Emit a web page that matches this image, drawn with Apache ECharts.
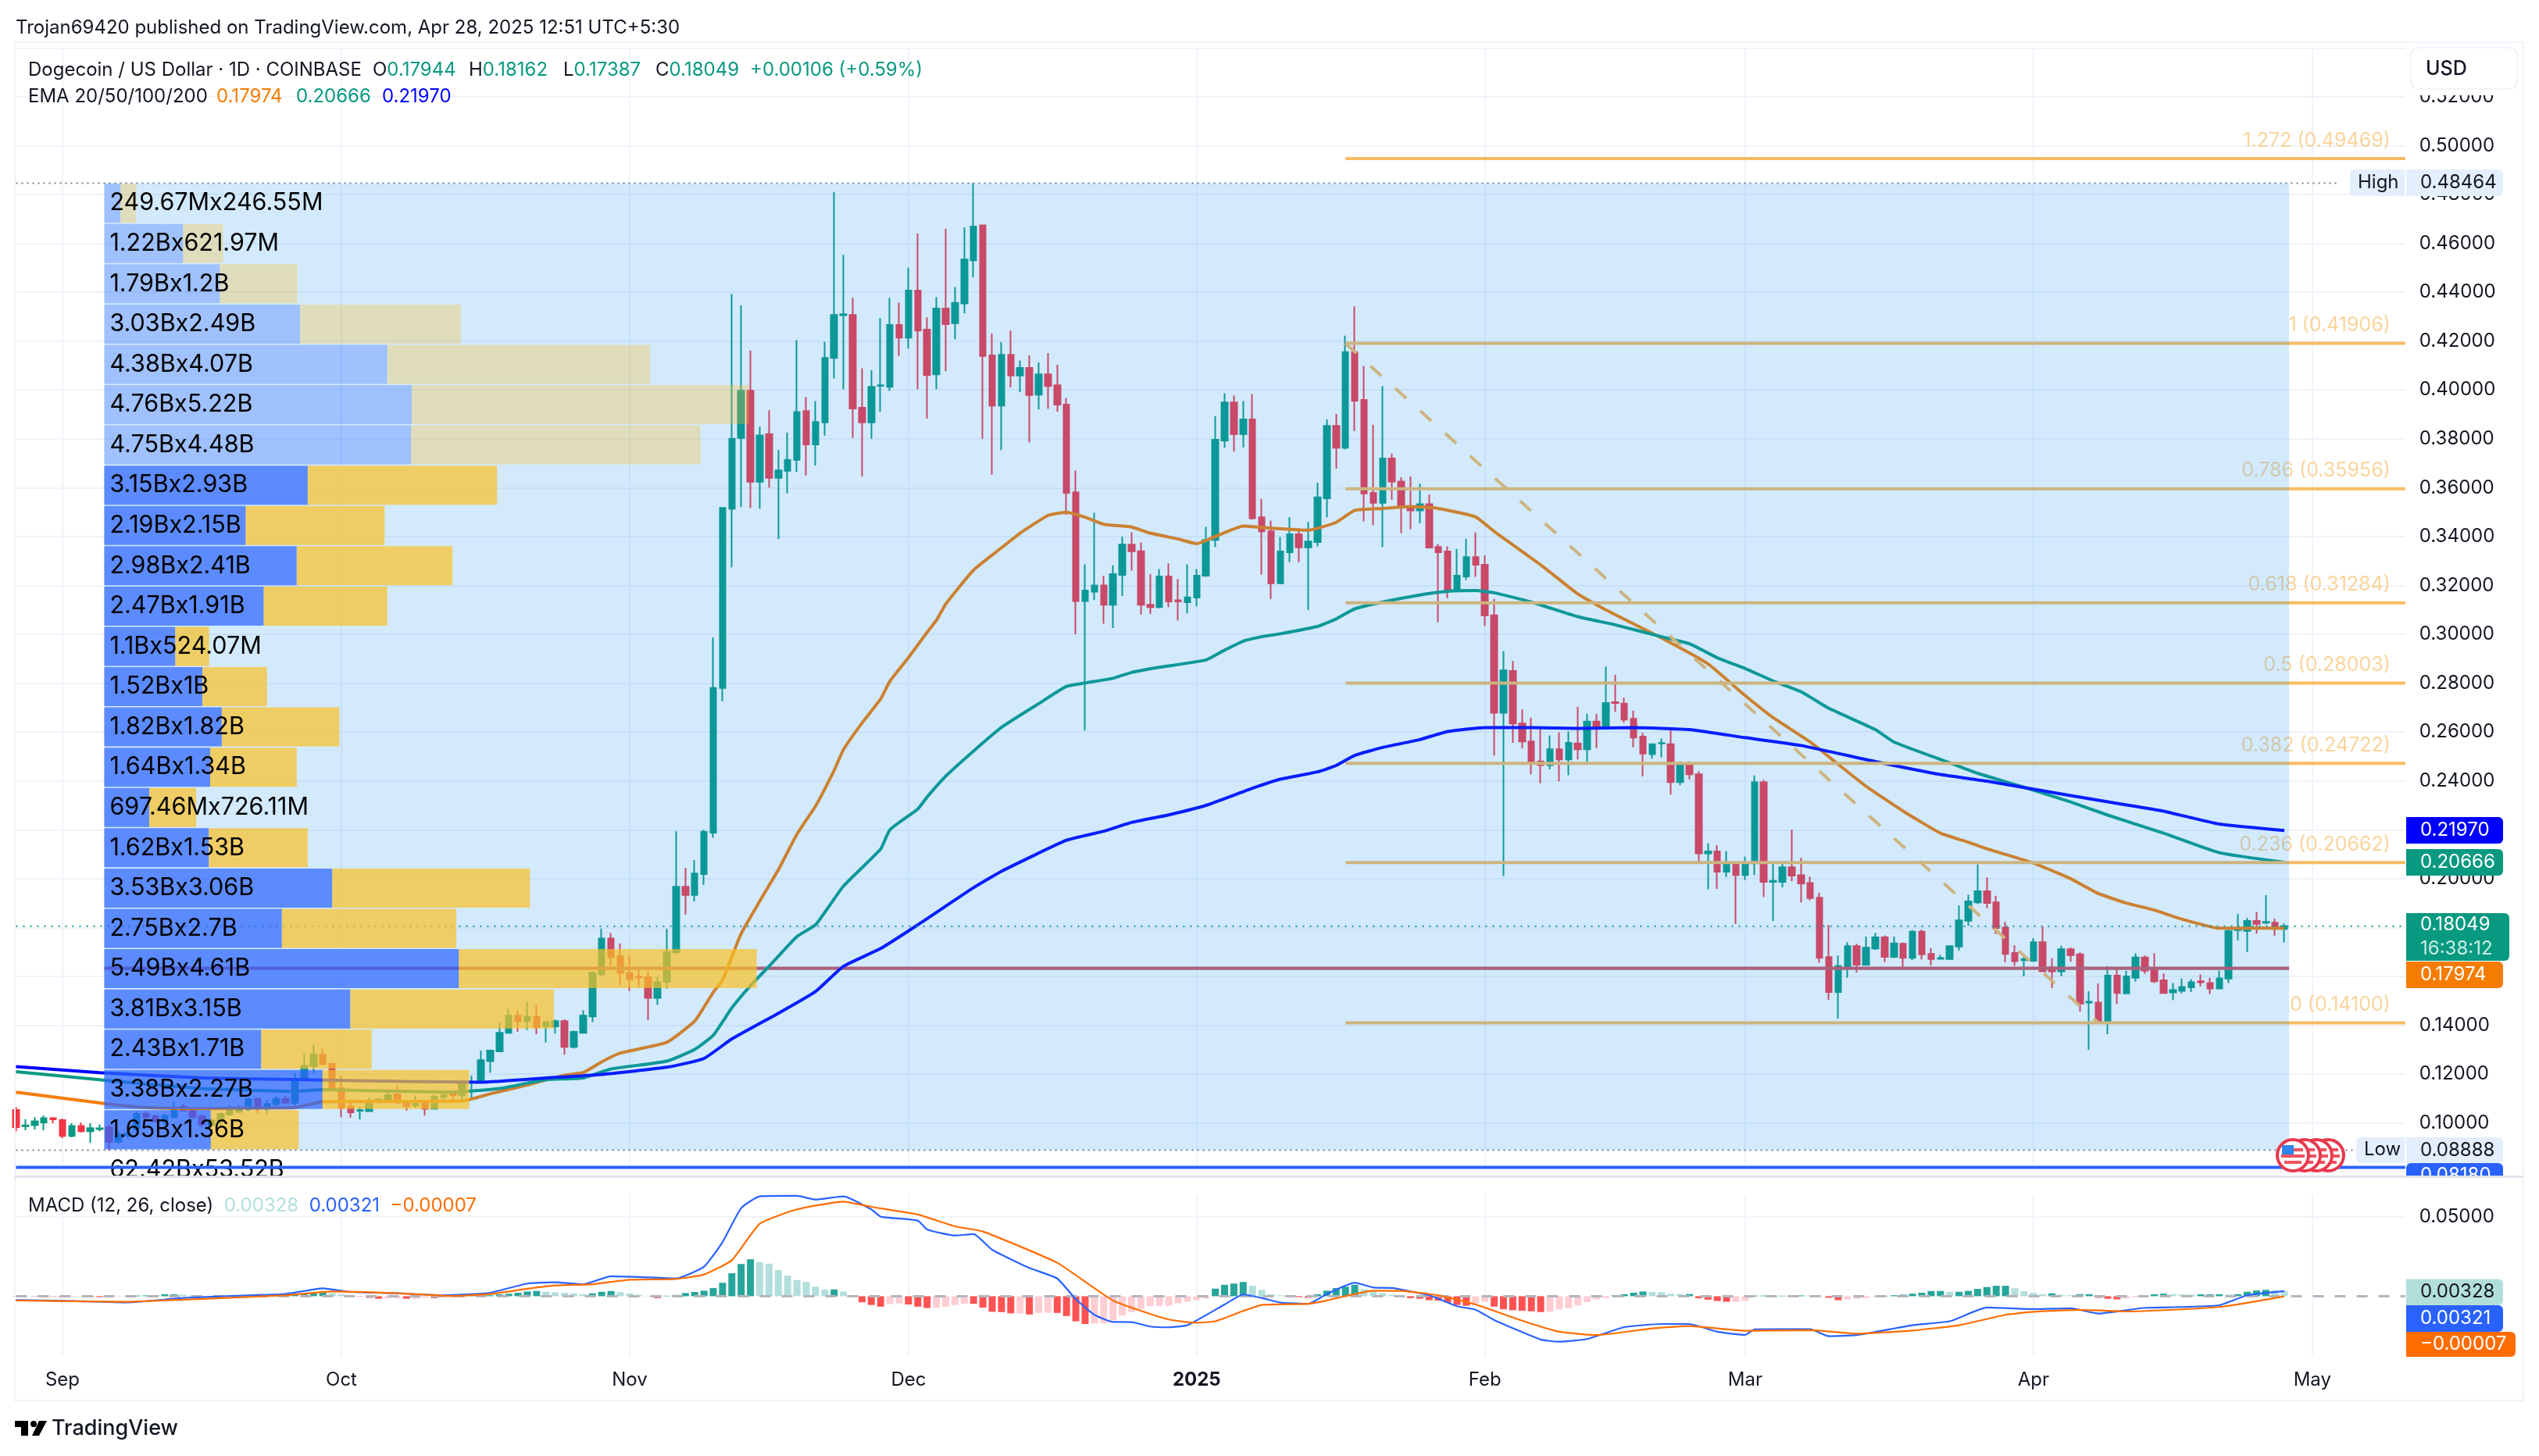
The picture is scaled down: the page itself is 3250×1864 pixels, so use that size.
<!DOCTYPE html>
<html>
<head>
<meta charset="utf-8">
<title>Dogecoin / US Dollar</title>
<script src="https://cdn.jsdelivr.net/npm/echarts@6/dist/echarts.min.js"></script>
<style>
  html, body { margin: 0; padding: 0; background: #fff; }
  #main-chart { width: 3250px; height: 1864px; }
</style>
</head>
<body>
<div id="main-chart"></div>
<script>
// daily bars Aug 27 2024 -> Apr 28 2025, rows are [open, close, low, high]
var candles = [
  [.1053,.0983,.0966,.1065],[.0987,.099,.097,.1016],[.0991,.1007,.0973,.1024],[.1002,.102,.097,.1031],[.102,.1015,.0999,.1024],
  // sep
  [.1012,.0947,.0937,.1017],[.0947,.0988,.0941,.0999],[.0988,.0966,.0961,.1002],[.0966,.0979,.0919,.0999],[.0975,.0978,.0966,.0994],
  [.0982,.0923,.08888,.0992],[.0923,.0953,.0916,.0966],[.095,.0957,.0939,.0966],[.0976,.1037,.0966,.1048],[.1037,.1024,.1014,.1048],
  [.1027,.1008,.1001,.1035],[.1008,.1029,.0994,.1037],[.1024,.1062,.1019,.1086],[.1067,.1051,.1046,.1078],[.1053,.1024,.1019,.1062],
  [.1027,.0994,.0982,.1035],[.0992,.101,.0982,.1019],[.1008,.1037,.0987,.1043],[.1035,.1051,.103,.1072],[.1046,.1056,.104,.1072],
  [.1056,.1097,.1046,.1104],[.1099,.1058,.104,.1104],[.1058,.1078,.1035,.1094],[.1078,.1099,.1067,.111],[.1099,.1083,.1078,.111],
  [.1083,.1176,.1072,.1205],[.1179,.1234,.1174,.1285],[.1232,.128,.12,.132],[.128,.124,.1238,.1305],[.1243,.114,.114,.1245],
  // oct
  [.1142,.1062,.1024,.1193],[.1067,.1044,.1022,.1094],[.105,.1052,.1014,.1067],[.1048,.109,.1046,.1104],[.109,.1096,.1078,.1101],
  [.1088,.1113,.1086,.1126],[.1117,.1083,.1083,.1154],[.1088,.1069,.1051,.1094],[.1072,.1078,.1062,.1113],[.1083,.1058,.103,.109],
  [.1058,.1107,.1056,.1115],[.1107,.1112,.1094,.1122],[.1117,.1113,.1083,.112],[.1113,.1166,.1097,.1179],[.1166,.1168,.1101,.1193],
  [.1174,.1257,.1162,.1296],[.1253,.1296,.1206,.13],[.1293,.1369,.129,.141],[.1369,.1439,.1369,.1468],[.1439,.1417,.1373,.1461],
  [.1417,.1435,.1381,.1497],[.1435,.1392,.1363,.1483],[.1395,.1413,.133,.1416],[.1395,.1417,.1366,.1423],[.1417,.1311,.1279,.1424],
  [.1311,.1373,.1305,.1378],[.1369,.1439,.1366,.1461],[.1436,.1614,.1413,.1621],[.1609,.1755,.1602,.1796],[.1755,.1679,.1643,.1778],
  [.1682,.1614,.1563,.1735],
  // nov
  [.1614,.1587,.154,.1687],[.1598,.1595,.1555,.1628],[.1596,.1512,.1421,.1621],[.1512,.1577,.1483,.1599],[.1578,.17,.155,.1794],
  [.1699,.1967,.169,.2194],[.1967,.1933,.1853,.2044],[.1933,.2021,.1907,.2076],[.2019,.2191,.1975,.22],[.2188,.278,.2167,.2987],
  [.278,.3517,.2726,.3517],[.3514,.38,.3274,.4393],[.3803,.3997,.3521,.4346],[.3997,.3624,.3517,.4161],[.3624,.3814,.3514,.385],
  [.3819,.364,.36,.3917],[.364,.3671,.339,.3754],[.3669,.3714,.3576,.3826],[.3714,.391,.3664,.4204],[.3914,.3777,.365,.3971],
  [.3777,.3869,.3691,.3954],[.3867,.4131,.3813,.4197],[.4131,.4307,.4047,.481],[.4306,.431,.4003,.4553],[.4307,.3924,.3803,.4377],
  [.3927,.3867,.3647,.4089],[.3867,.4013,.38,.4081],[.4017,.4019,.3911,.4294],[.4013,.4266,.3996,.4377],[.4266,.4214,.414,.4357],
  // dec
  [.4214,.4407,.4169,.45],[.4407,.4243,.4003,.464],[.4247,.4061,.3883,.4297],[.4064,.4333,.4003,.438],[.4333,.4269,.4077,.466],
  [.4273,.4356,.4207,.4421],[.4354,.4534,.4314,.4666],[.4531,.4669,.4461,.48464],[.4674,.4139,.38,.4677],[.4141,.3936,.3653,.4231],
  [.3936,.4144,.3754,.4196],[.4144,.4059,.401,.4243],[.4059,.409,.3991,.4121],[.409,.3979,.3786,.4141],[.3981,.4064,.392,.4113],
  [.4064,.4016,.3923,.4151],[.4019,.394,.3911,.4103],[.394,.3579,.3489,.3966],[.3581,.3136,.3,.3671],[.3136,.3179,.2607,.3286],
  [.3174,.32,.314,.3497],[.32,.3121,.3043,.324],[.3121,.3246,.3026,.3283],[.3243,.3367,.3157,.34],[.3367,.334,.3261,.3417],
  [.334,.3121,.3081,.3376],[.3121,.3111,.3083,.3246],[.3111,.3237,.3106,.3267],[.3237,.3134,.3111,.329],[.3139,.3134,.3057,.3226],
  [.3131,.3151,.3086,.3286],
  // jan
  [.315,.324,.3114,.3267],[.324,.3386,.3235,.344],[.3386,.3796,.3357,.3893],[.3793,.3949,.3763,.3986],[.3949,.3819,.3747,.3977],
  [.3819,.3879,.3765,.3954],[.3879,.3475,.347,.3983],[.3479,.3421,.3245,.3554],[.3421,.3209,.3145,.3465],[.3209,.3339,.3209,.3398],
  [.3336,.3409,.3295,.348],[.3409,.3356,.3295,.3434],[.3356,.338,.3099,.346],[.3377,.356,.336,.362],[.3556,.3853,.3479,.3879],
  [.3853,.3763,.3678,.3902],[.3763,.4155,.3757,.4222],[.4155,.3956,.3832,.4342],[.3959,.3576,.3463,.4098],[.3579,.3538,.3447,.3858],
  [.3538,.3719,.3357,.4016],[.3719,.3625,.3551,.3739],[.3625,.352,.3414,.3643],[.3523,.3507,.343,.3646],[.3507,.3532,.3455,.3616],
  [.3532,.3355,.3352,.3572],[.3357,.3336,.305,.3369],[.3339,.3181,.3148,.336],[.3181,.324,.3173,.3349],[.3237,.3316,.3222,.339],
  [.3316,.3285,.3235,.3417],
  // feb
  [.3285,.3078,.3034,.3323],[.3078,.2679,.2504,.3145],[.2679,.2852,.2011,.2931],[.285,.2635,.2556,.2891],[.2635,.2561,.2533,.2692],
  [.2561,.2476,.2427,.2659],[.248,.2465,.239,.2618],[.2465,.2529,.2447,.2586],[.2529,.2488,.2398,.2599],[.2488,.2556,.2423,.2602],
  [.2553,.2529,.2488,.2703],[.2529,.2643,.2468,.2675],[.2643,.2623,.2534,.2675],[.2621,.2719,.261,.2868],[.2722,.2719,.2683,.2834],
  [.2716,.2651,.2638,.274],[.2654,.2577,.2537,.2688],[.2581,.2512,.2418,.2597],[.2509,.255,.2491,.2553],[.2553,.2555,.2496,.2573],
  [.255,.2395,.2344,.2613],[.2395,.2467,.2382,.248],[.2467,.2427,.2406,.248],[.2427,.2103,.206,.2439],[.2103,.2111,.1956,.2145],
  [.2111,.2028,.1958,.2137],[.2028,.2067,.2007,.2113],[.2067,.2015,.1815,.2067],
  // mar
  [.2015,.2067,.1994,.209],[.2063,.2394,.2015,.2422],[.2394,.1987,.1925,.2404],[.1987,.1991,.1827,.2069],[.1987,.2047,.1964,.2066],
  [.2047,.2012,.1989,.22],[.2014,.198,.1903,.2085],[.1982,.192,.1911,.2008],[.1922,.1676,.1655,.1943],[.1679,.1536,.1504,.181],
  [.1536,.1642,.1427,.1685],[.164,.1724,.1594,.174],[.1724,.1648,.1616,.1733],[.1647,.1717,.1644,.1763],[.1714,.176,.1708,.1778],
  [.176,.168,.1658,.1768],[.168,.1735,.1674,.1763],[.1733,.1676,.1637,.1738],[.1676,.1783,.1666,.1789],[.1783,.169,.1669,.1791],
  [.1692,.1671,.1645,.1715],[.1672,.1675,.1669,.1688],[.1671,.1724,.1671,.1724],[.1722,.1829,.1706,.189],[.1828,.1907,.1807,.1935],
  [.1903,.1948,.1896,.2058],[.1948,.19,.1879,.2005],[.1903,.1797,.1773,.193],[.18,.1692,.1658,.1823],[.1696,.1662,.1644,.1728],
  [.1666,.167,.16,.1685],
  // apr
  [.1664,.174,.1659,.1756],[.174,.1621,.1621,.1804],[.1637,.1621,.1552,.1674],[.1621,.1711,.16,.1725],[.1711,.1687,.166,.1717],
  [.169,.1488,.1456,.1698],[.1493,.1496,.1299,.1539],[.1493,.1417,.1413,.1571],[.1417,.1603,.1363,.1642],[.1603,.1532,.1488,.1631],
  [.153,.16,.153,.1623],[.1594,.1677,.1578,.1695],[.1677,.1623,.161,.1685],[.1626,.158,.1573,.1695],[.1584,.1532,.153,.1612],
  [.1534,.1544,.1502,.1573],[.1541,.1557,.153,.1592],[.1555,.1576,.1536,.1589],[.158,.1576,.1559,.1608],[.1573,.155,.1527,.1594],
  [.155,.1592,.155,.1624],[.1591,.1786,.1573,.1802],[.1789,.1792,.1747,.1855],[.1786,.1827,.1699,.184],[.1827,.1815,.1775,.1864],
  [.182,.1823,.1813,.1932],[.182,.1794,.1765,.1836],[.17944,.18049,.17387,.18162]
];

// EMAs and MACD lines as [days after Sep 1 2024, value]
var ema20 = [[-5,.1126],[4,.1082],[9,.1063],[15,.1058],[20,.1061],[25,.1063],[28,.1087],[43,.109],[46,.1119],[50,.1155],[54,.1196],[56,.1206],[58,.125],[60,.1286],[65,.133],[68,.1417],[70,.1535],[71,.1585],[73,.1775],[75,.1908],[77,.2036],[79,.2182],[81,.2297],[83,.2443],[84,.2528],[86,.2637],[88,.2735],[89,.2808],[91,.2905],[93,.3008],[94,.3057],[95,.3123],[98,.3263],[101,.3354],[103,.3414],[106,.3486],[108,.35],[110,.3479],[112,.345],[115,.3439],[117,.3414],[120,.339],[122,.3371],[124,.34],[127,.3443],[130,.3434],[134,.3426],[137,.3458],[139,.3507],[142,.3515],[145,.3523],[148,.3515],[152,.348],[154,.3421],[159,.3284],[163,.3165],[166,.31],[172,.2985],[177,.2879],[181,.2749],[184,.2659],[188,.2559],[191,.2468],[194,.2378],[198,.2276],[202,.2186],[205,.2149],[207,.2122],[212,.2064],[216,.2],[219,.1939],[222,.19],[225,.1871],[228,.1834],[232,.1797],[235,.1797],[239,.17974]];
var ema50 = [[-5,.121],[4,.1177],[15,.1141],[25,.113],[28,.1136],[42,.1126],[47,.1141],[52,.1177],[56,.1184],[59,.1221],[65,.1253],[68,.1301],[70,.1359],[72,.1471],[74,.1562],[76,.1641],[79,.1763],[81,.1811],[84,.1969],[88,.2121],[89,.22],[92,.2285],[93,.2334],[95,.2419],[98,.2522],[101,.2619],[105,.2716],[108,.2787],[110,.2801],[113,.282],[115,.2844],[118,.2865],[123,.2895],[125,.2935],[127,.2972],[129,.299],[131,.3002],[135,.3032],[137,.3063],[139,.3104],[142,.3132],[146,.3161],[149,.3176],[152,.3179],[154,.317],[158,.3132],[163,.3072],[167,.3039],[172,.299],[175,.2961],[178,.2904],[181,.286],[184,.2809],[187,.2765],[190,.2697],[195,.261],[197,.2559],[203,.2474],[206,.2431],[212,.2362],[216,.2314],[220,.226],[226,.2186],[232,.2106],[239,.20666]];
var ema200 = [[-5,.1231],[4,.1206],[15,.1184],[26,.1177],[37,.117],[45,.1167],[52,.1184],[58,.1199],[65,.1228],[69,.1264],[72,.1344],[77,.1449],[81,.1538],[84,.1641],[88,.1714],[92,.1811],[98,.1963],[101,.203],[108,.2157],[112,.2194],[115,.223],[119,.2261],[123,.23],[128,.237],[131,.2407],[135,.2437],[137,.2463],[139,.2504],[142,.2537],[146,.2569],[149,.2602],[153,.2618],[158,.2618],[163,.2615],[169,.2618],[175,.261],[181,.2577],[187,.2545],[195,.2479],[202,.2426],[207,.2399],[216,.234],[221,.2308],[226,.2276],[232,.2223],[239,.2197]];
var macdLine = [[-5,-.0024],[1,-.003],[7,-.0039],[13,-.0011],[20,.0006],[24,.0014],[28,.005],[31,.0027],[36,.0019],[41,.0006],[46,.0022],[50,.008],[53,.0088],[56,.0075],[59,.0126],[62,.0121],[66,.0112],[69,.0186],[71,.0342],[73,.0556],[75,.063],[79,.0633],[81,.061],[84,.063],[87,.0548],[88,.0502],[92,.0477],[93,.0421],[96,.0383],[98,.0392],[100,.0293],[104,.0178],[107,.0112],[109,-.0019],[111,-.0117],[113,-.0162],[115,-.0163],[117,-.0191],[119,-.0196],[121,-.0183],[125,-.0052],[127,.0011],[129,-.0011],[131,-.004],[134,-.0048],[136,.0014],[139,.0085],[141,.0055],[143,.0052],[147,.0006],[150,-.0063],[152,-.0085],[154,-.015],[159,-.0273],[161,-.0287],[164,-.027],[168,-.0195],[172,-.0175],[175,-.0175],[178,-.0224],[181,-.0244],[182,-.0209],[188,-.0208],[190,-.0252],[193,-.0245],[199,-.0183],[203,-.0158],[207,-.0071],[212,-.0081],[216,-.0076],[219,-.0109],[224,-.0073],[228,-.0068],[232,-.0057],[235,.0006],[239,.00321]];
var macdSignal = [[-5,-.0027],[7,-.0035],[13,-.0022],[24,.0006],[29,.003],[36,.0019],[42,.0002],[46,.0014],[50,.0047],[53,.0068],[57,.0076],[61,.0104],[66,.0109],[69,.0137],[72,.0227],[75,.0457],[79,.0548],[84,.0597],[87,.0564],[92,.0515],[96,.0441],[99,.0408],[107,.0211],[113,-.0027],[119,-.0147],[122,-.0167],[124,-.0158],[127,-.0093],[129,-.0055],[134,-.0048],[136,-.0027],[139,.0014],[141,.0035],[144,.0034],[148,.0006],[152,-.0052],[157,-.0154],[161,-.0224],[165,-.0245],[171,-.0203],[175,-.0188],[181,-.0218],[188,-.0214],[193,-.0236],[199,-.0216],[204,-.0183],[209,-.0117],[212,-.0098],[217,-.0086],[222,-.0096],[232,-.0068],[239,-.00007]];
// one histogram bar per day, same range as candles
var macdHist = [
  .0002,.0001,-.0002,.0001,-.0002,
  -.0006,-.0005,-.0004,-.0005,-.0006,-.0004,-.0003,.0002,.0004,.0005,
  .0007,.0012,.0012,.001,.0006,.0003,.0002,.0002,.0002,.0003,
  .0004,.0005,.0005,.0006,.001,.0012,.0015,.0018,.0024,.002,
  .0012,.0006,-.0002,-.001,-.0016,-.0014,-.0012,-.0016,-.0016,-.001,
  -.0012,-.0008,-.0006,-.0003,.0002,.0004,.0006,.0012,.0016,.0022,
  .003,.0033,.0028,.0025,.0022,.0018,.0013,.0018,.0028,.0033,
  .0025,.0018,.0008,.0003,-.0012,.0003,.0008,.002,.0027,.0035,
  .0052,.0085,.0145,.0203,.0233,.0215,.0205,.0165,.013,.0102,
  .009,.006,.0042,.0043,.003,-.0005,-.0038,-.0055,-.0066,-.005,
  -.0046,-.0052,-.0066,-.0074,-.0072,-.0066,-.0055,-.0047,-.0048,-.0072,
  -.0098,-.01,-.0108,-.0108,-.0115,-.0105,-.0104,-.0105,-.0125,-.0158,
  -.0175,-.0172,-.017,-.0152,-.0122,-.01,-.008,-.0062,-.006,-.006,
  -.0045,-.0035,-.0025,-.0015,.0048,.0072,.008,.009,.0066,.004,
  .0012,.0006,.0003,-.0006,-.001,.0012,.0035,.0052,.006,.0072,
  .0045,.0034,.002,.001,-.0006,-.0012,-.0016,-.0025,-.0028,-.004,
  -.0055,-.006,-.0045,-.0035,-.0065,-.0082,-.0088,-.0092,-.0095,-.01,
  -.0098,-.0083,-.0075,-.0058,-.0037,-.002,-.0012,.0006,.0013,.0022,
  .003,.0027,.0026,.0016,.0014,.0014,-.0013,-.0022,-.003,-.0035,
  -.0035,-.003,.0004,.0004,-.0004,.0003,.0005,.0005,.0004,.0002,
  -.001,-.0025,-.002,-.0016,-.0012,-.0005,.0002,.0006,.001,.0016,
  .0022,.0033,.0033,.0028,.0028,.0034,.0046,.0058,.0066,.0066,
  .005,.0032,.0022,.0012,.0018,.001,.0006,.0013,.0013,-.001,
  -.0016,-.002,-.0014,-.0007,.0006,.0012,.0016,.0013,.0011,.001,
  .0012,.0012,.0012,.001,.0013,.0028,.0036,.004,.0038,.00328
];

// volume profile rows, top to bottom, in billions (last row is the total label)
var vpUp = [.24967,1.22,1.79,3.03,4.38,4.76,4.75,3.15,2.19,2.98,2.47,1.1,1.52,1.82,1.64,.69746,1.62,3.53,2.75,5.49,3.81,2.43,3.38,1.65,0];
var vpDown = [.24655,.62197,1.2,2.49,4.07,5.22,4.48,2.93,2.15,2.41,1.91,.52407,1,1.82,1.34,.72611,1.53,3.06,2.7,4.61,3.15,1.71,2.27,1.36,0];
var vpLabels = ['249.67Mx246.55M','1.22Bx621.97M','1.79Bx1.2B','3.03Bx2.49B','4.38Bx4.07B','4.76Bx5.22B','4.75Bx4.48B','3.15Bx2.93B','2.19Bx2.15B','2.98Bx2.41B','2.47Bx1.91B','1.1Bx524.07M','1.52Bx1B','1.82Bx1.82B','1.64Bx1.34B','697.46Mx726.11M','1.62Bx1.53B','3.53Bx3.06B','2.75Bx2.7B','5.49Bx4.61B','3.81Bx3.15B','2.43Bx1.71B','3.38Bx2.27B','1.65Bx1.36B','62.42Bx53.52B'];

var fibLevels = [.49469,.41906,.35956,.31284,.28003,.24722,.20662,.141];
var fibNames = ['1.272 (0.49469)','1 (0.41906)','0.786 (0.35956)','0.618 (0.31284)','0.5 (0.28003)','0.382 (0.24722)','0.236 (0.20662)','0 (0.14100)'];

var rangeHigh = .48464, rangeLow = .08888, pocPrice = .1633, lastClose = .18049, blueLevel = .0818;

// category per day, runs past the last bar up to the right edge of the pane
var categories = [];
(function(){
    var start = Date.UTC(2024, 7, 27);
    for (var i = 0; i < 258; i++) {
        categories.push(new Date(start + i * 864e5).toISOString().slice(0, 10));
    }
})();
var sep1 = categories.indexOf('2024-09-01');
var lastBar = categories.indexOf('2025-04-28');
var lastCat = categories.length - 1;
var monthNames = ['Jan','Feb','Mar','Apr','May','Jun','Jul','Aug','Sep','Oct','Nov','Dec'];

function isMonthStart(i){ return categories[i] && categories[i].slice(8) === '01'; }
function pairs(list){ return list.map(function(p){ return [p[0] + sep1, p[1]]; }); }

var FONT = 'Inter';
var DARK = '#131722';
var GRID_LINE = '#F0F3FA';
var gridLeft = 20.5, gridWidth = 3058.3;

function hLine(name, y, color, width, from, to, dash, z){
    return {
        name: name, type: 'line', xAxisIndex: 0, yAxisIndex: 0, z: z || 3, silent: true,
        symbol: 'none', data: [[from, y], [to, y]],
        lineStyle: {color: color, width: width, type: dash || 'solid'}
    };
}
function emaLine(list, color){
    return {
        type: 'line', xAxisIndex: 0, yAxisIndex: 0, z: 3, symbol: 'none', smooth: 0.15,
        data: pairs(list), lineStyle: {color: color, width: 4}
    };
}
// a box from the left edge of one bar to the right edge of another
function barRange(item, color, z){
    return {
        type: 'custom', xAxisIndex: 0, yAxisIndex: 0, z: z, silent: true,
        encode: {x: [0, 1], y: [2, 3]}, data: [item],
        renderItem: function(params, api){
            var half = api.size([1, 0])[0] / 2;
            var a = api.coord([api.value(0), api.value(2)]);
            var b = api.coord([api.value(1), api.value(3)]);
            return {type: 'rect', shape: {x: a[0] - half, y: a[1], width: b[0] - a[0] + 2 * half, height: b[1] - a[1]},
                style: {fill: color}};
        }
    };
}

var histData = macdHist.map(function(v, i){
    var prev = i ? macdHist[i - 1] : 0;
    var color = v >= 0 ? (v >= prev ? '#26A69A' : '#B2DFDB') : (v < prev ? '#FF5252' : '#FFCDD2');
    return {value: v, itemStyle: {color: color}};
});

var series = [
    {
        type: 'candlestick', xAxisIndex: 0, yAxisIndex: 0, z: 2, barWidth: 8,
        data: candles,
        itemStyle: {color: '#089981', color0: '#F23645', borderColor: '#089981', borderColor0: '#F23645', borderWidth: 2}
    },
    emaLine(ema20, '#F57C00'),
    emaLine(ema50, '#089981'),
    emaLine(ema200, '#0000FF'),
    hLine('high', rangeHigh, '#787B86', 2, 0, sep1 + 245, [2, 5]),
    hLine('low', rangeLow, '#787B86', 2, 0, sep1 + 247, [2, 5]),
    hLine('close', lastClose, '#089981', 2, 0, lastCat, [2, 7]),
    barRange([sep1 + 5, lastBar, rangeHigh, rangeLow], 'rgba(33,150,243,0.2)', 4),
    barRange([sep1 + 5, lastBar, pocPrice + .0007, pocPrice - .0007], '#CB5460', 3),
    hLine('blue', blueLevel, '#2962FF', 4, 0, lastCat, 'solid', 6),
    {
        type: 'line', xAxisIndex: 0, yAxisIndex: 0, z: 3, symbol: 'none',
        data: [[categories.indexOf('2025-01-17'), fibLevels[1]], [categories.indexOf('2025-04-08'), fibLevels[7]]],
        lineStyle: {color: '#F7BC62', width: 4, type: [19, 24]}
    },
    {
        type: 'scatter', xAxisIndex: 0, yAxisIndex: 0, z: 3, symbolSize: 0, silent: true,
        data: fibLevels.map(function(v){ return [lastCat, v]; }),
        label: {
            show: true, position: 'left', distance: 19, offset: [0, -23],
            color: 'rgba(247,188,98,0.8)', fontFamily: FONT, fontSize: 25,
            formatter: function(p){ return fibNames[p.dataIndex]; }
        }
    },
    // MACD pane
    {type: 'bar', xAxisIndex: 1, yAxisIndex: 1, barWidth: 9, data: histData, z: 2},
    {type: 'line', xAxisIndex: 1, yAxisIndex: 1, z: 3, symbol: 'none', data: [[0, 0], [lastCat, 0]],
        lineStyle: {color: '#B2B5BE', width: 3, type: [14, 14]}},
    {type: 'line', xAxisIndex: 1, yAxisIndex: 1, z: 4, symbol: 'none', smooth: 0.15, data: pairs(macdLine), lineStyle: {color: '#2962FF', width: 2.2}},
    {type: 'line', xAxisIndex: 1, yAxisIndex: 1, z: 4, symbol: 'none', smooth: 0.15, data: pairs(macdSignal), lineStyle: {color: '#FF6D00', width: 2.2}},
    // volume profile, has its own scale of billions
    {
        type: 'bar', xAxisIndex: 2, yAxisIndex: 2, stack: 'vp', barWidth: 50, z: 5,
        data: vpUp.map(function(v, i){ return {value: v, itemStyle: {color: i < 7 ? 'rgba(41,98,255,0.3)' : 'rgba(41,98,255,0.7)'}}; }),
        label: {
            show: true, position: 'insideLeft', distance: 7, color: '#000', fontFamily: FONT, fontSize: 30.5,
            formatter: function(p){ return vpLabels[p.dataIndex]; }
        }
    },
    {
        type: 'bar', xAxisIndex: 2, yAxisIndex: 2, stack: 'vp', barWidth: 50, z: 5,
        data: vpDown.map(function(v, i){ return {value: v, itemStyle: {color: i < 7 ? 'rgba(251,193,35,0.3)' : 'rgba(251,193,35,0.7)'}}; })
    }
];
fibLevels.forEach(function(v){
    series.push(hLine('fib', v, '#F7BC62', 4, categories.indexOf('2025-01-17'), lastCat));
});

// overlay pieces in page pixels
var elements = [];
function rect(x, y, w, h, fill, z, r, stroke){
    elements.push({type: 'rect', silent: true, z: z, shape: {x: x, y: y, width: w, height: h, r: r || 0},
        style: {fill: fill, stroke: stroke || null, lineWidth: stroke ? 2 : 0}});
}
function text(str, x, y, size, color, z, extra){
    var style = {text: str, x: x, y: y, fontSize: size, fontFamily: FONT, fill: color, verticalAlign: 'middle', align: 'left'};
    for (var k in (extra || {})) style[k] = extra[k];
    elements.push({type: 'text', silent: true, z: z || 80, style: style});
}
function tag(y0, y1, x1, fill, color, lines, z){
    rect(3080, y0, x1 - 3080, y1 - y0, fill, z || 65, [0, 6, 6, 0]);
    var step = (y1 - y0) / lines.length;
    lines.forEach(function(s, i){
        text(s.t || s, 3098, y0 + step * (i + 0.5), 24, s.c || color, (z || 65) + 1);
    });
}

// labels cover the axis numbers under them
tag(217, 251, 3204, '#E3EFFD', DARK, ['0.48464']);
rect(3008, 217, 70, 34, '#E3EFFD', 65, [6, 0, 0, 6]);
text('High', 3018, 234, 24, DARK, 66);
tag(1046, 1080, 3204, '#0000FF', '#fff', ['0.21970']);
tag(1087, 1121, 3204, '#089981', '#fff', ['0.20666']);
tag(1169, 1230, 3212, '#089981', '#fff', ['0.18049', {t: '16:38:12', c: '#C8EDE3'}]);
tag(1231, 1265, 3204, '#F57C00', '#fff', ['0.17974']);
rect(3016, 1456, 62, 33, '#E3EFFD', 65, [6, 0, 0, 6]);
text('Low', 3026, 1472, 24, DARK, 66);
tag(1456, 1489, 3204, '#E3EFFD', DARK, ['0.08888']);
rect(3080, 1489, 124, 30, '#2962FF', 55, [6, 6, 0, 0]);
text('0.08180', 3098, 1505, 24, '#fff', 56);
tag(1637.5, 1671, 3204, '#B2DFDB', DARK, ['0.00328']);
tag(1671, 1705, 3204, '#2962FF', '#fff', ['0.00321']);
tag(1705, 1737, 3220, '#FF6D00', '#fff', ['\u22120.00007']);

// news flags at the right end of the low line, left one sits on top
[2980, 2965, 2950, 2935].forEach(function(cx, n){
    var cy = 1479, z = 30 + n * 3;
    elements.push({type: 'circle', silent: true, z: z, shape: {cx: cx, cy: cy, r: 20}, style: {fill: '#fff', stroke: '#E8394C', lineWidth: 4}});
    rect(cx - 13, cy - 9, 26, 4, '#F0535F', z + 1);
    rect(cx - 15, cy - 1, 30, 4, '#F0535F', z + 1);
    rect(cx - 11, cy + 7, 22, 4, '#F0535F', z + 1);
    rect(cx - 14, cy - 13, 15, 12, '#2F86EB', z + 2);
});

// pane edges, the price pane clips what runs under it
rect(19, 1507, 3210, 22, '#fff', 60);
rect(3082, 56, 146, 66, '#fff', 60);
rect(3086, 61, 136, 53, '#fff', 61, 10, GRID_LINE);
text('USD', 3105, 88, 25, DARK, 62, {fontWeight: 500});
rect(19, 54, 3211, 1739, 'transparent', 70, 0, GRID_LINE);
rect(19, 1505, 3211, 3, '#E0E3EB', 70);

var green = {fill: '#089981'};
text('Trojan69420 published on TradingView.com, Apr 28, 2025 12:51 UTC+5:30', 20, 36, 24, DARK);
text('Dogecoin / US Dollar \u00B7 1D \u00B7 COINBASE', 36, 90, 24, DARK);
text('O{g|0.17944}', 477, 90, 24, DARK, 80, {rich: {g: green}});
text('H{g|0.18162}', 600, 90, 24, DARK, 80, {rich: {g: green}});
text('L{g|0.17387}', 721, 90, 24, DARK, 80, {rich: {g: green}});
text('C{g|0.18049}', 839, 90, 24, DARK, 80, {rich: {g: green}});
text('+0.00106 (+0.59%)', 960, 90, 24, '#089981');
text('EMA 20/50/100/200', 36, 124, 24, DARK);
text('0.17974', 277, 124, 24, '#F57C00');
text('0.20666', 379, 124, 24, '#089981');
text('0.21970', 489, 124, 24, '#0000FF');
text('MACD (12, 26, close)  {h|0.00328}  {m|0.00321}  {s|\u22120.00007}', 36, 1544, 24, DARK, 80,
    {rich: {h: {fill: '#B2DFDB'}, m: {fill: '#2962FF'}, s: {fill: '#FF6D00'}}});

// TradingView mark and name
function logoShape(points){
    elements.push({type: 'polygon', silent: true, z: 80, shape: {points: points}, style: {fill: '#000'}});
}
logoShape([[19,1819],[36,1819],[36,1838],[27,1838],[27,1827],[19,1827]]);
elements.push({type: 'circle', silent: true, z: 80, shape: {cx: 43, cy: 1823, r: 4}, style: {fill: '#000'}});
logoShape([[50,1819],[60,1819],[50,1838],[41,1838]]);
text('TradingView', 66, 1829, 27, '#131722', 80, {fontWeight: 500});

var option = {
    animation: false,
    backgroundColor: '#fff',
    textStyle: {fontFamily: FONT},
    grid: [
        {left: gridLeft, width: gridWidth, top: 61.3, height: 1438.9},
        {left: gridLeft, width: gridWidth, top: 1506, height: 231},
        {left: 133.4, width: 2796.6, top: 234.4, height: 1289.3}
    ],
    xAxis: [
        {
            type: 'category', gridIndex: 0, data: categories, boundaryGap: false,
            axisLine: {show: false}, axisTick: {show: false}, axisLabel: {show: false},
            splitLine: {show: true, interval: function(i){ return isMonthStart(i); }, lineStyle: {color: GRID_LINE, width: 2}}
        },
        {
            type: 'category', gridIndex: 1, data: categories, boundaryGap: false,
            axisLine: {show: false}, axisTick: {show: false},
            axisLabel: {
                show: true, margin: 18, color: DARK, fontFamily: FONT, fontSize: 24,
                interval: function(i){ return isMonthStart(i); },
                formatter: function(v){
                    var m = +v.slice(5, 7) - 1;
                    return m === 0 ? '{y|' + v.slice(0, 4) + '}' : monthNames[m];
                },
                rich: {y: {fontWeight: 700, fontSize: 24, color: DARK, fontFamily: FONT}}
            },
            splitLine: {show: true, interval: function(i){ return isMonthStart(i); }, lineStyle: {color: GRID_LINE, width: 2}}
        },
        {type: 'value', gridIndex: 2, min: 0, max: 33.82, show: false}
    ],
    yAxis: [
        {
            type: 'value', gridIndex: 0, position: 'right', min: .08, max: .54, interval: .02,
            axisLine: {show: false}, axisTick: {show: false},
            axisLabel: {
                margin: 18, color: DARK, fontFamily: FONT, fontSize: 24,
                formatter: function(v){ return (v < .09 || v > .53) ? '' : v.toFixed(5); }
            },
            splitLine: {lineStyle: {color: GRID_LINE, width: 2}}
        },
        {
            type: 'value', gridIndex: 1, position: 'right', min: -.0382, max: .0756,
            axisLine: {show: false},
            axisTick: {show: false, customValues: [.05]},
            axisLabel: {margin: 18, color: DARK, fontFamily: FONT, fontSize: 24, customValues: [.05],
                formatter: function(v){ return v.toFixed(5); }},
            splitLine: {lineStyle: {color: GRID_LINE, width: 2}}
        },
        {type: 'category', gridIndex: 2, inverse: true, show: false, data: vpLabels}
    ],
    series: series,
    graphic: {elements: elements}
};

var dom = document.getElementById('main-chart');
var myChart = echarts.init(dom);
myChart.setOption(option, true);
</script>
</body>
</html>
